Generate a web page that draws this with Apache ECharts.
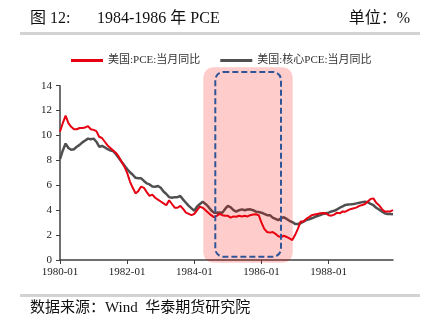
<!DOCTYPE html>
<html><head><meta charset="utf-8">
<script src="https://cdn.jsdelivr.net/npm/echarts@6/dist/echarts.min.js"></script>
<style>html,body{margin:0;padding:0;background:#fff;}#c{width:426px;height:325px;}</style>
</head><body><div id="c"></div>
<script>
var startYear = 1980, monthCount = 120;
var categories = [];
for (var k = 0; k < monthCount; k++) {
  var yy = startYear + Math.floor(k / 12), mm = (k % 12) + 1;
  categories.push(yy + '-' + (mm < 10 ? '0' + mm : mm));
}
var pce = [10.3,11.0,11.6,11.0,10.7,10.5,10.5,10.6,10.6,10.65,10.76,10.5,
  10.45,10.35,9.9,9.8,9.5,9.2,9.0,8.8,8.6,8.3,7.9,7.5,
  7.0,6.3,5.8,5.35,5.55,5.9,5.8,5.45,5.15,5.25,5.0,4.85,
  4.7,4.55,4.4,4.8,4.5,4.2,4.2,4.35,4.1,3.8,3.7,3.6,
  3.7,4.0,4.28,4.2,4.0,3.8,3.6,3.45,3.55,3.7,3.6,3.55,
  3.55,3.4,3.5,3.48,3.55,3.5,3.55,3.5,3.6,3.65,3.67,3.6,
  3.0,2.5,2.25,2.2,2.25,2.1,1.9,1.85,1.95,1.85,1.74,1.6,
  2.0,2.5,3.1,3.1,3.3,3.45,3.6,3.65,3.7,3.75,3.78,3.75,
  3.6,3.56,3.65,3.8,3.75,3.9,3.88,4.0,4.1,4.15,4.23,4.35,
  4.42,4.5,4.7,4.9,4.95,4.6,4.4,4.1,3.9,3.9,3.9,4.0];
var corePce = [8.1,8.8,9.35,9.0,8.85,8.9,9.1,9.25,9.45,9.6,9.75,9.7,
  9.75,9.5,9.1,9.16,9.05,8.9,8.8,8.75,8.5,8.2,7.9,7.6,
  7.3,7.05,6.85,6.6,6.56,6.56,6.35,6.15,6.07,5.9,5.89,5.95,
  5.8,5.5,5.3,5.05,5.0,5.05,5.05,5.14,4.85,4.6,4.35,4.15,
  3.96,4.3,4.5,4.68,4.5,4.28,4.0,3.8,3.8,3.82,3.8,4.1,
  4.34,4.23,4.0,3.88,4.0,4.07,4.0,4.05,4.07,4.0,3.88,3.85,
  3.8,3.7,3.6,3.6,3.4,3.3,3.2,3.35,3.43,3.3,3.15,3.05,
  2.9,2.89,2.95,3.08,3.2,3.27,3.35,3.45,3.53,3.6,3.7,3.75,
  3.8,3.9,3.95,4.07,4.2,4.3,4.42,4.45,4.47,4.5,4.55,4.6,
  4.65,4.69,4.65,4.5,4.4,4.2,4.05,3.9,3.75,3.7,3.7,3.67];
var yTicks = [0,2,4,6,8,10,12,14];
var seriesNames = ['美国:PCE:当月同比','美国:核心PCE:当月同比'];

var serif = '"Liberation Serif","Noto Sans CJK SC",serif';
var chart = echarts.init(document.getElementById('c'), null, {renderer:'canvas'});
chart.setOption({
  animation: false,
  backgroundColor: '#fff',
  grid: {left: 60, right: 33, top: 85.7, bottom: 65, containLabel: false},
  legend: {
    left: 66, top: 50, itemWidth: 32, itemHeight: 3, itemGap: 20, icon: 'rect',
    textStyle: {fontFamily: serif, fontSize: 11, color: '#333'},
    data: seriesNames
  },
  xAxis: {
    type: 'category', data: categories, boundaryGap: false,
    axisLine: {lineStyle: {color: '#404040', width: 1.5}},
    axisTick: {interval: 23, length: 4, lineStyle: {color: '#404040'}},
    axisLabel: {interval: 23, color: '#222', fontFamily: serif, fontSize: 11, margin: 7}
  },
  yAxis: {
    type: 'value', min: yTicks[0], max: yTicks[yTicks.length-1], interval: 2,
    splitLine: {show: false},
    axisLine: {show: true, lineStyle: {color: '#404040', width: 1.5}},
    axisTick: {show: true, length: 4, lineStyle: {color: '#404040'}},
    axisLabel: {color: '#222', fontFamily: serif, fontSize: 11, margin: 8}
  },
  series: [
    {name: seriesNames[0], type: 'line', data: pce, symbol: 'none', z: 3,
     lineStyle: {color: '#e60012', width: 2}, itemStyle: {color: '#e60012'}},
    {name: seriesNames[1], type: 'line', data: corePce, symbol: 'none', z: 2,
     lineStyle: {color: '#505050', width: 2.5}, itemStyle: {color: '#505050'}}
  ],
  graphic: [
    {type: 'text', left: 30, top: 11, style: {text: '图 12:', font: '16px ' + serif, fill: '#111'}},
    {type: 'text', left: 97, top: 11, style: {text: '1984-1986 年 PCE', font: '16px ' + serif, fill: '#111'}},
    {type: 'text', right: 16, top: 11, style: {text: '单位：%', font: '16px ' + serif, fill: '#111'}},
    {type: 'rect', shape: {x: 20, y: 32, width: 400, height: 3}, style: {fill: '#d3d3d3'}},
    {type: 'rect', shape: {x: 20, y: 294, width: 400, height: 3}, style: {fill: '#d3d3d3'}},
    {type: 'text', left: 30, top: 301, style: {text: '数据来源：Wind  华泰期货研究院', font: '15px ' + serif, fill: '#111'}},
    {type: 'rect', z: 100, shape: {x: 203.3, y: 67.3, width: 89.4, height: 195.4, r: 10},
     style: {fill: 'rgba(255,0,0,0.2)'}},
    {type: 'rect', z: 101, shape: {x: 215.3, y: 72, width: 65.7, height: 184.7, r: 8},
     style: {fill: 'none', stroke: '#2f5597', lineWidth: 2, lineDash: [6, 3]}}
  ]
});
</script></body></html>
